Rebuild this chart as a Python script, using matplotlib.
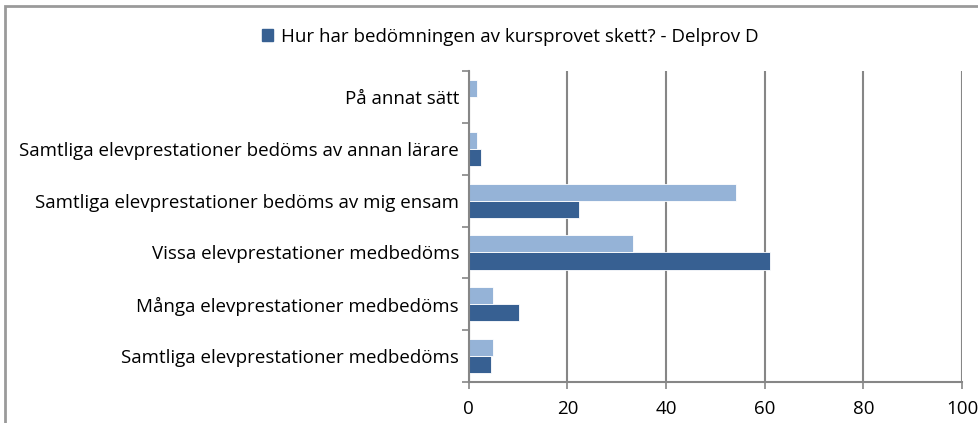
import matplotlib.pyplot as plt
import numpy as np
from matplotlib.patches import Patch, Rectangle

categories = [
    "Samtliga elevprestationer medbedöms",
    "Många elevprestationer medbedöms",
    "Vissa elevprestationer medbedöms",
    "Samtliga elevprestationer bedöms av mig ensam",
    "Samtliga elevprestationer bedöms av annan lärare",
    "På annat sätt",
]
# dark series (in legend) and light series (no legend entry)
delprov_d = [4.5, 10.1, 61.0, 22.3, 2.4, 0.0]
other = [5.0, 5.0, 33.4, 54.1, 1.7, 1.7]
legend_label = "Hur har bedömningen av kursprovet skett? - Delprov D"

dark = "#376092"
light = "#95B3D7"
grey = "#868686"

plt.rcParams["font.family"] = ["Open Sans", "DejaVu Sans"]

fig = plt.figure(figsize=(9.79, 4.23), dpi=100)
ax = fig.add_axes([0.4788, 0.097, 0.9826 - 0.4788, 0.832 - 0.097])

y = np.arange(len(categories))
h = 0.33
ax.barh(y - h / 2, delprov_d, height=h, color=dark, edgecolor="white", linewidth=0.6)
ax.barh(y + h / 2, other, height=h, color=light, edgecolor="white", linewidth=0.6)

ax.set_xlim(0, 100)
ax.set_ylim(-0.5, len(categories) - 0.5)
ax.set_xticks(range(0, 101, 20))
ax.set_yticks(y)
ax.set_yticklabels(categories)
ax.set_yticks(np.arange(-0.5, len(categories), 1), minor=True)
ax.tick_params(axis="y", which="major", length=0, pad=7, labelsize=13.5)
ax.tick_params(axis="y", which="minor", length=5, color=grey, width=1.2)
ax.tick_params(axis="x", length=5, color=grey, width=1.2, pad=8, labelsize=13.5)

ax.grid(axis="x", color=grey, linewidth=1.5)
ax.set_axisbelow(True)
for s in ["top", "right"]:
    ax.spines[s].set_visible(False)
for s in ["left", "bottom"]:
    ax.spines[s].set_color(grey)
    ax.spines[s].set_linewidth(1.5)

fig.legend(handles=[Patch(color=dark, label=legend_label)], loc="center",
           bbox_to_anchor=(510 / 979, 1 - 37 / 423), frameon=False,
           fontsize=13.5, handlelength=0.6, handleheight=0.6, handletextpad=0.4)

# outer chart border (only top and left visible)
fig.patches.append(Rectangle((5 / 979, -0.1), 1.2, 1 - 6 / 423 + 0.1,
                             transform=fig.transFigure, fill=False,
                             edgecolor="#9a9a9a", linewidth=2))

plt.savefig("out.png", dpi=100)
